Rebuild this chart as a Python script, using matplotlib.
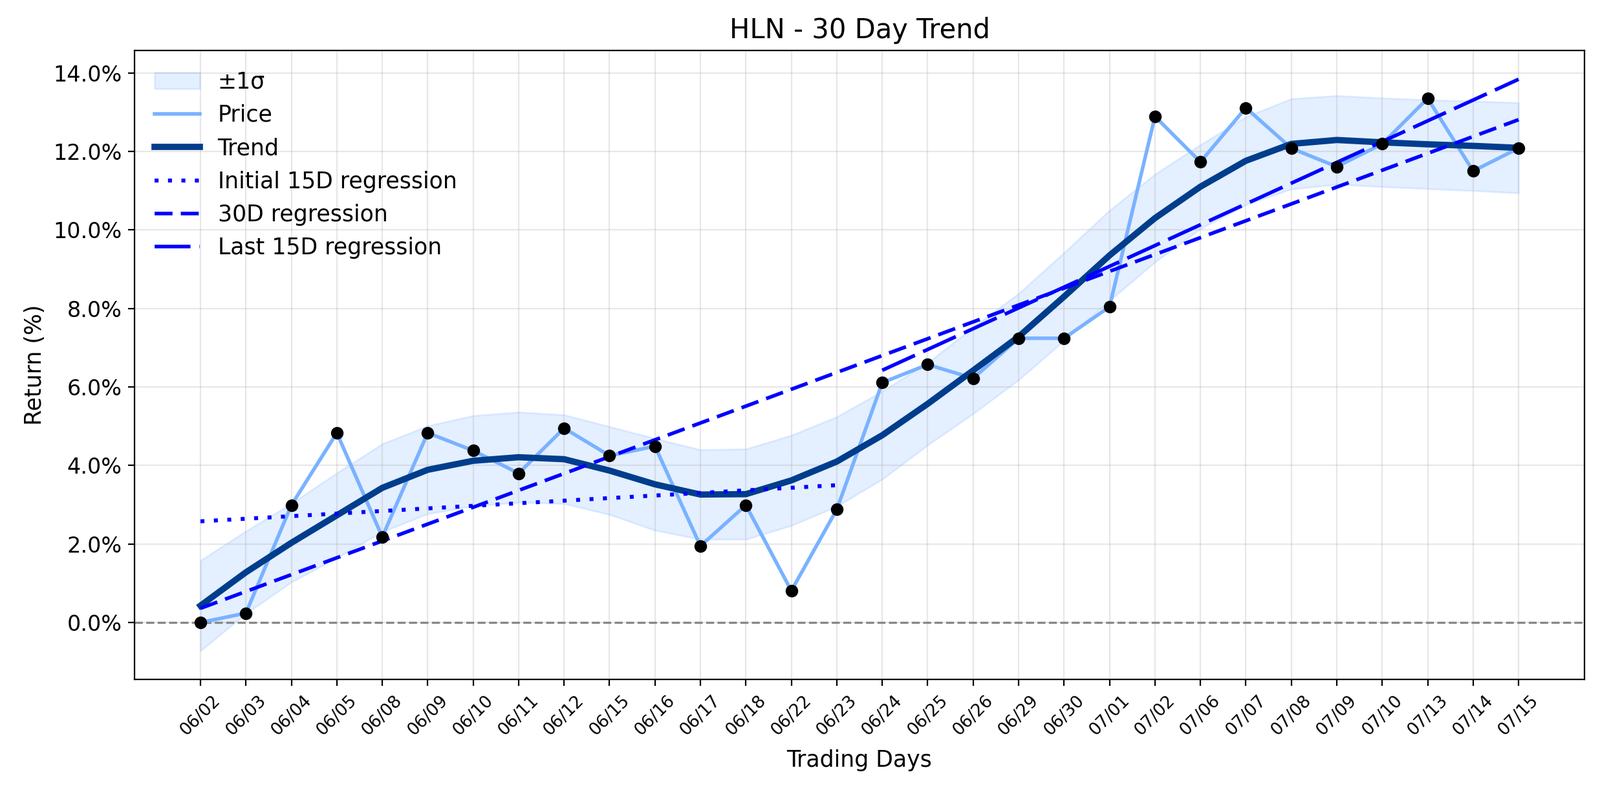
import numpy as np
import matplotlib
matplotlib.use("Agg")
import matplotlib.pyplot as plt
from matplotlib.ticker import FuncFormatter

dates = ["06/02", "06/03", "06/04", "06/05", "06/08", "06/09", "06/10", "06/11", "06/12", "06/15",
         "06/16", "06/17", "06/18", "06/22", "06/23", "06/24", "06/25", "06/26", "06/29", "06/30",
         "07/01", "07/02", "07/06", "07/07", "07/08", "07/09", "07/10", "07/13", "07/14", "07/15"]

price = [0.00, 0.24, 2.99, 4.83, 2.18, 4.83, 4.38, 3.80, 4.95, 4.25,
         4.49, 1.95, 2.99, 0.81, 2.88, 6.11, 6.57, 6.22, 7.24, 7.24,
         8.04, 12.89, 11.73, 13.11, 12.08, 11.61, 12.19, 13.35, 11.50, 12.08]

trend = [0.43, 1.28, 2.03, 2.73, 3.43, 3.89, 4.12, 4.21, 4.16, 3.87,
         3.52, 3.26, 3.27, 3.62, 4.10, 4.77, 5.57, 6.42, 7.28, 8.30,
         9.35, 10.30, 11.10, 11.76, 12.19, 12.29, 12.23, 12.18, 12.14, 12.09]

sigma = [1.15, 1.05, 1.00, 1.08, 1.12, 1.12, 1.15, 1.15, 1.13, 1.12,
         1.17, 1.14, 1.15, 1.15, 1.14, 1.12, 1.05, 1.10, 1.10, 1.12,
         1.15, 1.12, 1.07, 1.12, 1.15, 1.13, 1.13, 1.13, 1.14, 1.15]

title = "HLN - 30 Day Trend"

x = np.arange(len(dates))
p = np.array(price)
t = np.array(trend)
s = np.array(sigma)

fig = plt.figure(figsize=(12.37, 6.12), dpi=200)
ax = fig.add_axes([0.0841, 0.1422, 0.9062, 0.7938])

ax.fill_between(x, t - s, t + s, color="#7ab2ff", alpha=0.2, label="±1σ")
ax.plot(x, p, color="#7ab2ff", lw=2, label="Price", zorder=3)
ax.plot(x, t, color="#003d8c", lw=3.5, label="Trend", zorder=4)

# regressions
x1 = x[:15]
c1 = np.polyfit(x1, p[:15], 1)
ax.plot(x1, np.polyval(c1, x1), color="blue", lw=2.2, linestyle=(0, (1, 2.4)),
        label="Initial 15D regression", zorder=5)
c2 = np.polyfit(x, p, 1)
ax.plot(x, np.polyval(c2, x), color="blue", lw=2, linestyle=(0, (5, 2.3)),
        label="30D regression", zorder=5)
x3 = x[15:]
c3 = np.polyfit(x3, p[15:], 1)
ax.plot(x3, np.polyval(c3, x3), color="blue", lw=2, linestyle=(0, (10, 2.5)),
        label="Last 15D regression", zorder=5)

ax.plot(x, p, "o", color="black", ms=6, zorder=6)
ax.axhline(0, color="#888888", ls="--", lw=1.2, zorder=2)

ax.set_xticks(x)
ax.set_xticklabels(dates, rotation=45, fontsize=9.5)
ax.yaxis.set_major_formatter(FuncFormatter(lambda v, pos: f"{v:.1f}%"))
ax.tick_params(axis="y", labelsize=12)
ax.grid(True, alpha=0.3)
ax.set_xlabel("Trading Days", fontsize=12.5, labelpad=6)
ax.set_ylabel("Return (%)", fontsize=12.5)
ax.set_title(title, fontsize=15, pad=7)
ax.legend(loc="upper left", frameon=False, fontsize=12.5)

fig.savefig("out.png", dpi=200)
